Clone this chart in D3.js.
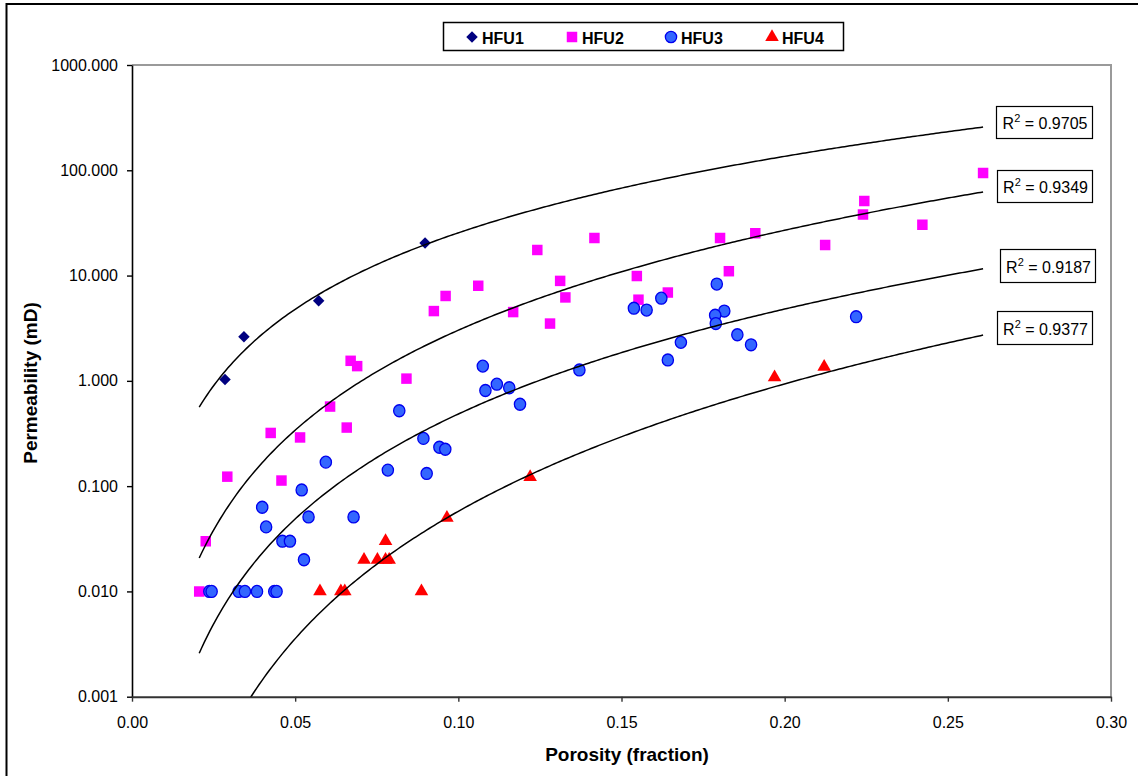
<!DOCTYPE html>
<html>
<head>
<meta charset="utf-8">
<script src="https://cdn.jsdelivr.net/npm/d3@7"></script>
<style>
  html, body { margin: 0; padding: 0; background: #fff; }
  svg { display: block; font-family: "Liberation Sans", Arial, sans-serif; }
</style>
</head>
<body>
<svg id="chart" width="1138" height="776"></svg>
<script>
// Hydraulic flow units: porosity (fraction) vs permeability (mD)
const seriesNames = ["HFU1", "HFU2", "HFU3", "HFU4"];

const hfu1Phi = [0.0285, 0.0343, 0.0572, 0.0898];
const hfu1K   = [1.03, 2.62, 5.77, 20.4];

const hfu2Phi = [0.2608, 0.2244, 0.2240, 0.2422, 0.2124, 0.1910, 0.1802, 0.1829, 0.1417, 0.1242,
                 0.1312, 0.1547, 0.1328, 0.1642, 0.1552, 0.1168, 0.1281, 0.1061, 0.0961, 0.0925,
                 0.0670, 0.0690, 0.0841, 0.0607, 0.0425, 0.0515, 0.0658, 0.0292, 0.0458, 0.0226,
                 0.0206];
const hfu2K   = [94, 51, 38, 30.4, 19.5, 25.2, 22.7, 11.0, 22.7, 17.5,
                 8.9, 9.9, 6.2, 6.9, 5.9, 4.5, 3.5, 8.0, 6.4, 4.6,
                 1.55, 1.38, 1.05, 0.57, 0.32, 0.29, 0.36, 0.123, 0.113, 0.030,
                 0.010];

const hfu3Phi = [0.1075, 0.1083, 0.1118, 0.1156, 0.1189, 0.0819, 0.0893, 0.0942, 0.0960, 0.0784,
                 0.0903, 0.0594, 0.0520, 0.0399, 0.0411, 0.0541, 0.0679, 0.0461, 0.0484, 0.0527,
                 0.0237, 0.0244, 0.0327, 0.0346, 0.0383, 0.0436, 0.0443, 0.1792, 0.1622, 0.1538,
                 0.1577, 0.1815, 0.1787, 0.1789, 0.1855, 0.1897, 0.1682, 0.1642, 0.1371, 0.2219];
const hfu3K   = [1.38, 0.81, 0.93, 0.86, 0.60, 0.52, 0.284, 0.234, 0.224, 0.142,
                 0.132, 0.169, 0.092, 0.063, 0.041, 0.051, 0.051, 0.030, 0.030, 0.020,
                 0.010, 0.010, 0.010, 0.010, 0.010, 0.010, 0.010, 8.3, 6.1, 4.9,
                 4.7, 4.6, 4.2, 3.5, 2.74, 2.20, 2.32, 1.58, 1.27, 4.07];

const hfu4Phi = [0.0965, 0.0777, 0.0711, 0.0752, 0.0777, 0.0788, 0.0576, 0.0640, 0.0652, 0.0887,
                 0.1220, 0.1969, 0.2121];
const hfu4K   = [0.050, 0.030, 0.020, 0.020, 0.020, 0.020, 0.010, 0.010, 0.010, 0.010,
                 0.122, 1.08, 1.36];

// Power-law trendlines k = a * phi^b for each unit
const trendA = [6592, 4315, 993, 604];
const trendB = [2.413, 3.154, 3.312, 4.02];
const r2Text = ["0.9705", "0.9349", "0.9187", "0.9377"];

const xTicks = [0, 0.05, 0.10, 0.15, 0.20, 0.25, 0.30];
const yTicks = [0.001, 0.01, 0.1, 1, 10, 100, 1000];

// ---- layout ----
const svg = d3.select("#chart");
const plot = { left: 132, right: 1111, top: 65, bottom: 696.7 };
const x = d3.scaleLinear().domain([0, 0.30]).range([plot.left, plot.right]);
const y = d3.scaleLog().domain([0.001, 1000]).range([plot.bottom, plot.top]);

// square turned on its corner (equal width and height)
const squareDiamond = {
  draw(ctx, size) {
    const r = Math.sqrt(size / 2);
    ctx.moveTo(0, -r); ctx.lineTo(r, 0); ctx.lineTo(0, r); ctx.lineTo(-r, 0); ctx.closePath();
  }
};

const colors = { HFU1: "#000080", HFU2: "#FF00FF", HFU3: "#3366FF", HFU4: "#FF0000" };
const shapes = { HFU1: squareDiamond, HFU2: d3.symbolSquare, HFU3: d3.symbolCircle, HFU4: d3.symbolTriangle };
const sizes  = { HFU1: 66, HFU2: 110, HFU3: 100, HFU4: 80 };

// outer chart frame
svg.append("rect")
  .attr("x", 6.5).attr("y", 4).attr("width", 1200).attr("height", 900)
  .attr("fill", "none").attr("stroke", "#000").attr("stroke-width", 2);

svg.append("defs").append("clipPath").attr("id", "plotClip")
  .append("rect")
  .attr("x", plot.left).attr("y", plot.top)
  .attr("width", plot.right - plot.left).attr("height", plot.bottom - plot.top);

// plot area border (top and right)
svg.append("path")
  .attr("d", `M${plot.left},${plot.top}H${plot.right}V${plot.bottom}`)
  .attr("fill", "none").attr("stroke", "#9a9a9a").attr("stroke-width", 2);

// axes
const yAxis = d3.axisLeft(y).tickValues(yTicks).tickFormat(d3.format(".3f"))
  .tickSize(5).tickSizeOuter(0).tickPadding(9);
const gy = svg.append("g").attr("transform", `translate(${plot.left},0)`).call(yAxis);
gy.select(".domain").attr("stroke", "#000").attr("stroke-width", 1.6);
gy.selectAll(".tick line").attr("stroke", "#000").attr("stroke-width", 1.4);
gy.selectAll(".tick text").attr("font-size", 16).attr("fill", "#000")
  .attr("font-family", "'Liberation Sans', Arial, sans-serif");

const xAxis = d3.axisBottom(x).tickValues(xTicks).tickFormat(d3.format(".2f"))
  .tickSize(5).tickSizeOuter(0).tickPadding(15);
const gx = svg.append("g").attr("transform", `translate(0,${plot.bottom})`).call(xAxis);
gx.select(".domain").attr("stroke", "#333").attr("stroke-width", 2);
gx.selectAll(".tick line").attr("stroke", "#333").attr("stroke-width", 1.4);
gx.selectAll(".tick text").attr("font-size", 16).attr("fill", "#000")
  .attr("font-family", "'Liberation Sans', Arial, sans-serif");

// axis titles
svg.append("text")
  .attr("x", 627).attr("y", 761).attr("text-anchor", "middle")
  .attr("font-size", 19).attr("font-weight", "bold")
  .text("Porosity (fraction)");
svg.append("text")
  .attr("transform", "translate(37,383) rotate(-90)").attr("text-anchor", "middle")
  .attr("font-size", 19).attr("font-weight", "bold")
  .text("Permeability (mD)");

// data markers
const series = [
  { name: "HFU1", phi: hfu1Phi, k: hfu1K },
  { name: "HFU2", phi: hfu2Phi, k: hfu2K },
  { name: "HFU3", phi: hfu3Phi, k: hfu3K },
  { name: "HFU4", phi: hfu4Phi, k: hfu4K }
];

function drawMarker(sel, name) {
  sel.attr("d", d3.symbol().type(shapes[name]).size(sizes[name])())
    .attr("fill", colors[name])
    .attr("stroke", name === "HFU3" ? "#0000EE" : "none")
    .attr("stroke-width", name === "HFU3" ? 1.3 : 0);
}

const gPts = svg.append("g").attr("clip-path", "url(#plotClip)");
series.forEach(s => {
  const pts = s.phi.map((p, i) => ({ p, k: s.k[i] }));
  gPts.append("g").selectAll("path").data(pts).join("path")
    .attr("transform", d => `translate(${x(d.p)},${y(d.k)})` + (s.name === "HFU3" ? " scale(1,1.06)" : ""))
    .call(drawMarker, s.name);
});

// trendlines over the overall porosity range
const allPhi = [].concat(hfu1Phi, hfu2Phi, hfu3Phi, hfu4Phi);
const [phiMin, phiMax] = d3.extent(allPhi);
const gTrend = svg.append("g").attr("clip-path", "url(#plotClip)");
const line = d3.line().x(d => x(d[0])).y(d => y(d[1]));
trendA.forEach((a, i) => {
  const b = trendB[i];
  const pts = d3.range(0, 301).map(j => {
    const p = phiMin + (phiMax - phiMin) * j / 300;
    return [p, Math.max(a * Math.pow(p, b), 0.0005)];
  });
  gTrend.append("path").attr("d", line(pts))
    .attr("fill", "none").attr("stroke", "#000").attr("stroke-width", 1.5);
});

// R-squared labels at the right end of each trendline
const r2Boxes = [
  { x: 996, y: 106, w: 96, h: 32 },
  { x: 997, y: 170, w: 95, h: 32 },
  { x: 1000, y: 249, w: 95, h: 33 },
  { x: 997, y: 311, w: 95, h: 33 }
];
r2Text.forEach((t, i) => {
  const bx = r2Boxes[i];
  const g = svg.append("g");
  g.append("rect").attr("x", bx.x + 0.5).attr("y", bx.y + 0.5)
    .attr("width", bx.w).attr("height", bx.h)
    .attr("fill", "#fff").attr("stroke", "#000").attr("stroke-width", 1.2);
  const tx = g.append("text").attr("x", bx.x + bx.w / 2 + 1).attr("y", bx.y + bx.h / 2 + 7)
    .attr("text-anchor", "middle").attr("font-size", 16);
  tx.append("tspan").text("R");
  tx.append("tspan").attr("dy", -7).attr("font-size", 11).text("2");
  tx.append("tspan").attr("dy", 7).text(" = " + t);
});

// legend
const legend = svg.append("g");
legend.append("rect").attr("x", 443.5).attr("y", 22.5).attr("width", 400).attr("height", 28)
  .attr("fill", "#fff").attr("stroke", "#000").attr("stroke-width", 1.5);
const legendX = [472, 572, 671, 772];
seriesNames.forEach((n, i) => {
  legend.append("path")
    .attr("transform", `translate(${legendX[i]},${37})`)
    .call(drawMarker, n);
  legend.append("text").attr("x", legendX[i] + 10).attr("y", 44)
    .attr("font-size", 16).attr("font-weight", "bold").text(n);
});
</script>
</body>
</html>
